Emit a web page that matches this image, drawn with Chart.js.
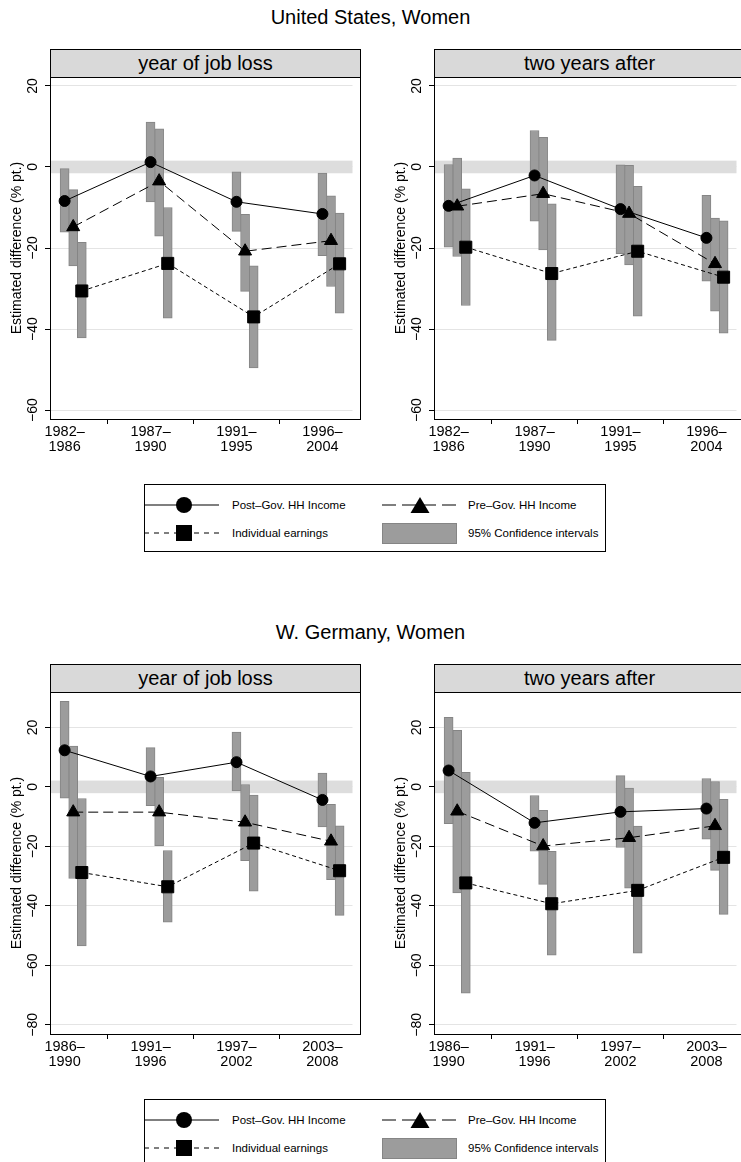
<!DOCTYPE html>
<html>
<head>
<meta charset="utf-8">
<script src="https://cdn.jsdelivr.net/npm/chart.js@4.4.1/dist/chart.umd.min.js"></script>
<style>
  body { margin: 0; width: 741px; height: 1162px; overflow: hidden; background: #fff; position: relative;
         font-family: "Liberation Sans", Arial, Helvetica, sans-serif; color: #000; }
  .suptitle { position: absolute; left: 0; width: 741px; text-align: center; font-size: 20px; line-height: 24px; }
  .strip { position: absolute; background: #d9d9d9; border: 1px solid #000; box-sizing: border-box;
           text-align: center; font-size: 20px; line-height: 26px; }
  .box { position: absolute; border: 1px solid #000; box-sizing: border-box; pointer-events: none; }
  .wrap { position: absolute; }
  .legend { position: absolute; border: 1px solid #000; box-sizing: border-box; }
  .legend svg { position: absolute; left: 0; top: 0; overflow: visible; }
  .legend span { position: absolute; font-size: 11.5px; line-height: 14px; white-space: nowrap; }
</style>
</head>
<body>
<script>
// --- Data ---
const usPeriods = [['1982–', '1986'], ['1987–', '1990'], ['1991–', '1995'], ['1996–', '2004']];
const dePeriods = [['1986–', '1990'], ['1991–', '1996'], ['1997–', '2002'], ['2003–', '2008']];
const usTicks = [-60, -40, -20, 0, 20];
const deTicks = [-80, -60, -40, -20, 0, 20];

// United States, year of job loss
const usLossPost = [-8.4, 1.2, -8.6, -11.6];
const usLossPostCI = [[-16.1, -0.4], [-8.6, 11.1], [-15.9, -1.2], [-21.9, -1.5]];
const usLossPre = [-14.8, -3.5, -20.8, -18.2];
const usLossPreCI = [[-24.4, -5.6], [-17.1, 9.4], [-30.7, -11.7], [-29.5, -7.1]];
const usLossInd = [-30.6, -23.8, -37.0, -23.9];
const usLossIndCI = [[-42.2, -18.6], [-37.3, -10.0], [-49.6, -24.4], [-36.1, -11.4]];

// United States, two years after
const usAfterPost = [-9.6, -2.1, -10.4, -17.5];
const usAfterPostCI = [[-19.8, 0.6], [-13.4, 9.0], [-21.4, 0.5], [-28.2, -7.0]];
const usAfterPre = [-9.7, -6.6, -11.5, -23.9];
const usAfterPreCI = [[-22.1, 2.2], [-20.5, 7.3], [-24.2, 0.4], [-35.6, -12.6]];
const usAfterInd = [-19.8, -26.3, -20.8, -27.2];
const usAfterIndCI = [[-34.2, -5.4], [-42.8, -9.1], [-36.8, -4.8], [-41.0, -13.3]];

// W. Germany, year of job loss
const deLossPost = [12.3, 3.5, 8.3, -4.4];
const deLossPostCI = [[-3.8, 28.8], [-6.3, 13.2], [-1.4, 18.4], [-13.5, 4.6]];
const deLossPre = [-8.5, -8.5, -11.9, -18.3];
const deLossPreCI = [[-30.8, 13.7], [-19.8, 3.2], [-24.8, 0.8], [-31.2, -5.9]];
const deLossInd = [-28.8, -33.6, -18.9, -28.2];
const deLossIndCI = [[-53.5, -3.9], [-45.5, -21.4], [-35.1, -2.8], [-43.2, -13.1]];

// W. Germany, two years after
const deAfterPost = [5.5, -12.1, -8.4, -7.3];
const deAfterPostCI = [[-12.4, 23.4], [-21.6, -2.9], [-20.4, 3.8], [-17.6, 2.8]];
const deAfterPre = [-8.2, -19.9, -17.1, -13.1];
const deAfterPreCI = [[-35.7, 19.0], [-32.8, -7.9], [-34.1, -0.4], [-28.1, 1.8]];
const deAfterInd = [-32.3, -39.3, -34.8, -23.7];
const deAfterIndCI = [[-69.4, 4.9], [-56.6, -21.7], [-55.9, -13.2], [-42.9, -4.2]];

// --- Layout & style ---
const FONT = '"Liberation Sans", Arial, Helvetica, sans-serif';
const X_MIN = 0.83, X_MAX = 4.35;
const SHIFT = [0, 0.1, 0.2];           // side-by-side offset of the three series
const AXIS_W = 50, PLOT_W = 310, PLOT_H = 342, AXIS_H = 40, PAD_TOP = 12, PAD_RIGHT = 2;
const SERIES = [
  { dash: [], style: 'circle', r: 5.5 },
  { dash: [10, 5], style: 'triangle', r: 7.5 },
  { dash: [4, 3], style: 'rect', r: 8.5 }
];

const figures = [
  { title: 'United States, Women', top: 0, yMin: -62.2, yMax: 22.2, ticks: usTicks, periods: usPeriods,
    panels: [
      { label: 'year of job loss', left: 0, est: [usLossPost, usLossPre, usLossInd], ci: [usLossPostCI, usLossPreCI, usLossIndCI] },
      { label: 'two years after', left: 384, est: [usAfterPost, usAfterPre, usAfterInd], ci: [usAfterPostCI, usAfterPreCI, usAfterIndCI] }
    ] },
  { title: 'W. Germany, Women', top: 615, yMin: -83.1, yMax: 31.9, ticks: deTicks, periods: dePeriods,
    panels: [
      { label: 'year of job loss', left: 0, est: [deLossPost, deLossPre, deLossInd], ci: [deLossPostCI, deLossPreCI, deLossIndCI] },
      { label: 'two years after', left: 384, est: [deAfterPost, deAfterPre, deAfterInd], ci: [deAfterPostCI, deAfterPreCI, deAfterIndCI] }
    ] }
];

// thick light-grey reference line at zero
const zeroBand = {
  id: 'zeroBand',
  beforeDatasetsDraw(chart) {
    const { ctx, chartArea, scales } = chart;
    const y = scales.y.getPixelForValue(0);
    ctx.save();
    ctx.fillStyle = '#dddddd';
    ctx.fillRect(chartArea.left, y - 6.3, chartArea.right - chartArea.left, 12.6);
    ctx.restore();
  }
};

function el(tag, cls, style, text) {
  const e = document.createElement(tag);
  if (cls) e.className = cls;
  Object.assign(e.style, style);
  if (text) e.textContent = text;
  document.body.appendChild(e);
  return e;
}

const fmtY = v => (v < 0 ? '−' + Math.abs(v) : String(v));

function makePanel(fig, p) {
  const plotTop = fig.top + 77;
  const wrap = el('div', 'wrap', { left: p.left + 'px', top: (plotTop - PAD_TOP) + 'px' });
  const canvas = document.createElement('canvas');
  canvas.width = AXIS_W + PLOT_W + PAD_RIGHT;
  canvas.height = PAD_TOP + PLOT_H + AXIS_H;
  wrap.appendChild(canvas);

  const datasets = [];
  SERIES.forEach((s, k) => {
    datasets.push({
      type: 'bar',
      data: p.ci[k].map((r, i) => ({ x: i + 1 + SHIFT[k], y: r })),
      backgroundColor: '#9c9c9c', borderColor: '#858585', borderWidth: 1, borderSkipped: false,
      barThickness: 9, grouped: false, order: 2
    });
  });
  SERIES.forEach((s, k) => {
    datasets.push({
      type: 'line',
      data: p.est[k].map((v, i) => ({ x: i + 1 + SHIFT[k], y: v })),
      borderColor: '#000', borderWidth: 1, borderDash: s.dash, tension: 0, fill: false,
      pointStyle: s.style, pointRadius: s.r, pointBackgroundColor: '#000', pointBorderColor: '#000',
      pointBorderWidth: 1, order: 0
    });
  });

  new Chart(canvas, {
    type: 'bar',
    data: { datasets },
    plugins: [zeroBand],
    options: {
      responsive: false, animation: false, events: [], devicePixelRatio: 1,
      layout: { padding: { top: PAD_TOP, right: PAD_RIGHT, left: 0, bottom: 0 } },
      plugins: { legend: { display: false }, tooltip: { enabled: false } },
      scales: {
        x: {
          type: 'linear', min: X_MIN, max: X_MAX, offset: false,
          afterBuildTicks: sc => { sc.ticks = [1, 2, 3, 4].map(v => ({ value: v })); },
          afterFit: sc => { sc.height = AXIS_H; },
          grid: { drawOnChartArea: false, drawTicks: true, tickLength: 5, tickColor: '#000' },
          border: { display: false },
          ticks: { color: '#000', font: { family: FONT, size: 14.5, lineHeight: 1.0 }, padding: 1,
                   autoSkip: false, maxRotation: 0, callback: v => fig.periods[Math.round(v) - 1] }
        },
        y: {
          type: 'linear', min: fig.yMin, max: fig.yMax,
          afterBuildTicks: sc => { sc.ticks = fig.ticks.map(v => ({ value: v })); },
          afterFit: sc => { sc.width = AXIS_W; },
          grid: { color: '#e4e4e4', lineWidth: 1, tickColor: '#000', tickLength: 5 },
          border: { display: false },
          ticks: { color: '#000', font: { family: FONT, size: 14 }, padding: 0,
                   minRotation: 90, maxRotation: 90, crossAlign: 'center', callback: fmtY },
          title: { display: true, text: 'Estimated difference (% pt.)', color: '#000',
                   font: { family: FONT, size: 14 }, padding: { top: 9, bottom: 0 } }
        }
      }
    }
  });

  // strip title and outer frame
  const x0 = p.left + AXIS_W;
  el('div', 'strip', { left: x0 + 'px', top: (fig.top + 49) + 'px', width: (PLOT_W + 1) + 'px', height: '29px' }, p.label);
  el('div', 'box', { left: x0 + 'px', top: (fig.top + 49) + 'px', width: (PLOT_W + 1) + 'px', height: (PLOT_H + 29) + 'px' });
}

function makeLegend(top) {
  const box = el('div', 'legend', { left: '144px', top: top + 'px', width: '462px', height: '68px' });
  box.innerHTML = `
    <svg width="462" height="68">
      <line x1="-1" y1="20" x2="74" y2="20" stroke="#000" stroke-width="1.2"/>
      <circle cx="39" cy="20" r="8" fill="#000"/>
      <line x1="237" y1="20" x2="311" y2="20" stroke="#000" stroke-width="1.2" stroke-dasharray="14,6"/>
      <polygon points="265.5,28 284.5,28 275,12" fill="#000"/>
      <line x1="-1" y1="48" x2="74" y2="48" stroke="#000" stroke-width="1.2" stroke-dasharray="5,5"/>
      <rect x="31" y="40" width="16" height="16" fill="#000"/>
      <rect x="237.5" y="38.5" width="74" height="20" fill="#9c9c9c" stroke="#858585" stroke-width="1"/>
    </svg>
    <span style="left:87px;top:13px">Post–Gov. HH Income</span>
    <span style="left:323px;top:13px">Pre–Gov. HH Income</span>
    <span style="left:87px;top:41px">Individual earnings</span>
    <span style="left:323px;top:41px">95% Confidence intervals</span>`;
}

figures.forEach(fig => {
  el('div', 'suptitle', { top: (fig.top + 5) + 'px' }, fig.title);
  fig.panels.forEach(p => makePanel(fig, p));
  makeLegend(fig.top + 484);
});
</script>
</body>
</html>
